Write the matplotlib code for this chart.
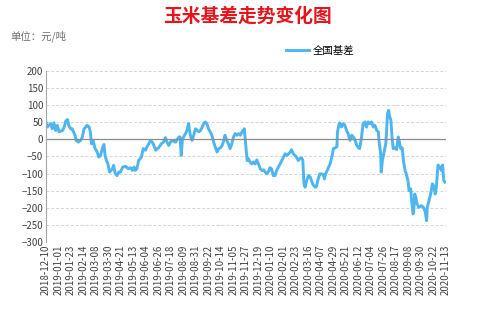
import datetime as dt
import numpy as np
import matplotlib
matplotlib.use('Agg')
import matplotlib.pyplot as plt
import matplotlib.dates as mdates

plt.rcParams['font.family'] = ['Noto Sans CJK SC', 'DejaVu Sans']

# --- data (days after 2018-12-10, basis in yuan/ton) ---
start = dt.date(2018, 12, 10)
days = [0, 2, 5, 8, 11, 14, 17, 20, 23, 29, 32, 35, 38, 40, 43, 46, 51, 53, 57, 61,
        64, 67, 70, 72, 76, 78, 80, 83, 86, 90, 93, 96, 99, 102, 104, 106, 109, 112,
        117, 119, 122, 125, 128, 131, 135, 140, 145, 149, 152, 155, 157, 160, 163,
        168, 171, 175, 178, 181, 184, 187, 190, 193, 196, 198, 203, 207, 210, 213,
        216, 219, 222, 225, 228, 234, 236, 238, 240, 242, 245, 248, 251, 254, 257,
        260, 263, 266, 269, 272, 275, 277, 280, 283, 286, 289, 292, 295, 298, 301,
        304, 307, 310, 313, 315, 318, 321, 324, 327, 330, 333, 336, 339, 342, 345,
        349, 354,
        356, 359, 362, 365, 368, 371, 374, 377, 380, 383, 386, 389, 392, 394, 397,
        400, 403, 406, 409, 412, 415, 418, 421, 424, 427, 430, 432, 435, 438, 441,
        444, 447, 450, 452, 454, 456, 459, 462, 465, 468, 471, 474, 476, 479, 482,
        485, 488, 490, 492, 495, 497, 500, 503, 506, 509, 512, 513, 516, 517, 520,
        523, 526, 529, 532, 535, 538, 541, 544, 547, 550, 552, 555, 558, 561, 564,
        567, 570, 573, 576, 579, 582, 585, 586, 589, 590, 592, 595, 598, 599, 601,
        603, 605, 607, 609, 611, 614, 617, 620, 622, 624, 627, 629, 632, 634, 637,
        639, 642, 643, 646, 647, 649, 651, 653, 656, 661, 664, 667, 670, 671, 674,
        677, 680, 682, 685, 687, 690, 693, 696, 698, 700, 702]
basis = [51, 36, 41, 46, 31, 48, 26, 41, 22, 26, 36, 54, 58, 41, 31, 31, 12, -3, -8, -3,
         7, 31, 36, 41, 36, 22, -13, -3, -25, -37, -52, -47, -27, -15, -47, -60, -72, -96,
         -86, -76, -101, -106, -96, -96, -81, -79, -86, -83, -91, -81, -91, -86, -62,
         -52, -27, -32, -21, -13, -3, -8, -18, -32, -27, -25, -13, -8, 5, -8,
         -18, -8, -3, -6, -8, 7, 7, -47, -3, 7, 15, 26, 46, 12, -3,
         12, 31, 26, 22, 26, 36, 44, 51, 46, 31, 22, 12, -8, -23, -37,
         -27, -25, -18, -3, 12, -2, -13, -27, -13, 7, 17, 12, 17, 12, 22,
         31, -62,
         -56, -66, -72, -66, -72, -60, -72, -86, -91, -89, -96, -101, -93, -83, -86,
         -106, -106, -91, -81, -72, -62, -52, -42, -47, -42, -37, -30, -42, -47, -52,
         -62, -56, -54, -62, -130, -140, -120, -106, -110, -125, -135, -140, -138, -116, -101,
         -101, -103, -116, -101, -91, -83, -72, -52, -27, -25, -21, 22, 46, 48, 36,
         46, 41, 26, 15, -3, 12, 7, -3, -18, -25, -27, 2, 46, 51, 36,
         51, 46, 51, 36, 41, 26, 22, -3, -42, -96, -62, -37, -13, 12, 75,
         85, 66, 56, 7, -27, -25, -30, 7, -8, -27, -25, -62, -91, -101, -120,
         -150, -145, -170, -218, -213, -160, -170, -189, -199, -194, -199, -209, -238, -199, -179,
         -160, -130, -135, -160, -140, -75, -81, -91, -75, -120, -125]

tick_step = 22  # label every 22 days
n_ticks = 33

dates = [start + dt.timedelta(days=d) for d in days]
ticks = [start + dt.timedelta(days=tick_step * i) for i in range(n_ticks)]

fig = plt.figure(figsize=(5, 3.17), dpi=100)
ax = fig.add_axes([0.092, 0.237, 0.8, 0.539])

ax.plot(dates, basis, color='#4db5f0', linewidth=2.1, label='全国基差')

ax.set_ylim(-300, 200)
ax.set_yticks(np.arange(-300, 201, 50))
ax.set_xlim(ticks[0], ticks[-1])
ax.set_xticks(ticks)
ax.xaxis.set_major_formatter(mdates.DateFormatter('%Y-%m-%d'))
plt.setp(ax.get_xticklabels(), rotation=90)

ax.grid(axis='y', color='#d4d4d4', linestyle=(0, (3, 2)), linewidth=0.7)
ax.axhline(0, color='#8c8c8c', linewidth=0.9)
ax.tick_params(axis='both', length=0, labelsize=7, colors='#404040', pad=2)
for side in ['top', 'right', 'bottom']:
    ax.spines[side].set_visible(False)
ax.spines['left'].set_color('#a6a6a6')

fig.text(0.494, 0.95, '玉米基差走势变化图', color='#e8141c', fontsize=13.5,
         fontweight='bold', ha='center', va='center')
fig.text(0.02, 0.885, '单位：元/吨', color='#707070', fontsize=7.5, va='center')
fig.legend(loc='center', bbox_to_anchor=(0.64, 0.84), frameon=False, fontsize=7.5,
           handlelength=2.2, handletextpad=0.3)

fig.savefig('out.png', dpi=100)
